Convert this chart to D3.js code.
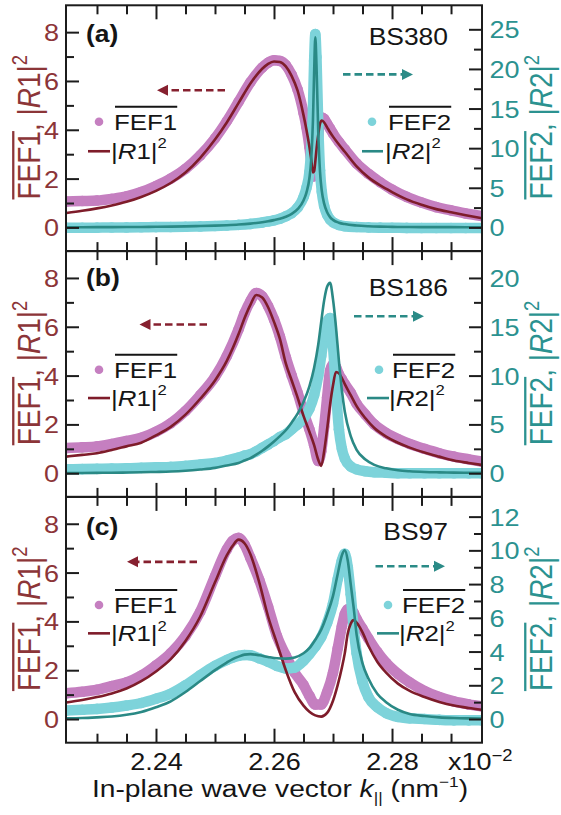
<!DOCTYPE html>
<html>
<head>
<meta charset="utf-8">
<script src="https://cdn.jsdelivr.net/npm/d3@7"></script>
<style>
  html, body { margin: 0; padding: 0; background: #fff; }
  svg { display: block; }
  text { font-family: "Liberation Sans", Arial, Helvetica, sans-serif; }
</style>
</head>
<body>
<svg id="chart" width="561" height="815"></svg>
<script>
// ---------- data: in-plane wave vector grids (x10^-2 nm^-1) and curves ----------
// (a) BS380
const kA = [2.2248, 2.2275, 2.230, 2.2325, 2.235, 2.2375, 2.240, 2.2425, 2.245, 2.2475,
            2.250, 2.252, 2.254, 2.256, 2.258, 2.259, 2.260, 2.261, 2.262, 2.263,
            2.264, 2.265, 2.2655, 2.266, 2.2663, 2.2666, 2.2668, 2.2670, 2.2672, 2.2675,
            2.2678, 2.2681, 2.2685, 2.269, 2.2695, 2.270, 2.271, 2.272, 2.274, 2.276,
            2.278, 2.280, 2.2825, 2.285, 2.2875, 2.290, 2.2925, 2.2952];
const fef1A = [1.06, 1.08, 1.1, 1.17, 1.27, 1.45, 1.7, 2.0, 2.4, 2.95,
               3.65, 4.35, 5.15, 5.95, 6.55, 6.75, 6.85, 6.82, 6.65, 6.25,
               5.65, 4.7, 4.1, 3.3, 2.7, 2.1, 2.1, 2.5, 3.1, 3.8,
               4.35, 4.5, 4.45, 4.25, 4.05, 3.85, 3.5, 3.2, 2.62, 2.2,
               1.85, 1.55, 1.25, 1.02, 0.83, 0.7, 0.57, 0.47];
const r1A = [0.59, 0.68, 0.78, 0.9, 1.05, 1.25, 1.5, 1.82, 2.25, 2.85,
             3.6, 4.3, 5.1, 5.9, 6.5, 6.7, 6.8, 6.78, 6.6, 6.2,
             5.6, 4.6, 4.0, 3.3, 2.8, 2.25, 2.3, 2.7, 3.2, 3.8,
             4.25, 4.38, 4.3, 4.1, 3.9, 3.72, 3.4, 3.1, 2.5, 2.05,
             1.72, 1.45, 1.15, 0.93, 0.75, 0.62, 0.5, 0.38];
const fef2A = [-0.05, -0.04, -0.03, -0.02, 0, 0.02, 0.04, 0.06, 0.09, 0.13,
               0.18, 0.24, 0.32, 0.44, 0.62, 0.75, 0.9, 1.1, 1.4, 1.8,
               2.5, 3.8, 5.0, 7.0, 9.8, 15.0, 21.0, 24.4, 21.5, 13.0,
               7.2, 4.5, 2.7, 1.6, 1.0, 0.65, 0.3, 0.15, 0.05, 0,
               -0.03, -0.05, -0.06, -0.07, -0.08, -0.08, -0.08, -0.08];
const r2A = [0.02, 0.02, 0.03, 0.04, 0.05, 0.06, 0.08, 0.1, 0.13, 0.17,
             0.22, 0.28, 0.36, 0.48, 0.65, 0.77, 0.92, 1.1, 1.35, 1.7,
             2.3, 3.4, 4.4, 6.2, 8.5, 13.5, 19.5, 24.0, 20.5, 12.0,
             7.0, 4.6, 3.0, 1.9, 1.3, 0.95, 0.6, 0.42, 0.24, 0.15,
             0.1, 0.07, 0.05, 0.04, 0.03, 0.03, 0.02, 0.02];

// (b) BS186
const kB = [2.2248, 2.2275, 2.230, 2.2325, 2.235, 2.2375, 2.240, 2.2425, 2.245, 2.2475,
            2.250, 2.252, 2.254, 2.255, 2.256, 2.257, 2.258, 2.259, 2.260, 2.261,
            2.262, 2.263, 2.264, 2.265, 2.266, 2.2668, 2.2675, 2.268, 2.2685, 2.269,
            2.2695, 2.270, 2.2705, 2.271, 2.2715, 2.272, 2.273, 2.274, 2.2755, 2.277,
            2.279, 2.281, 2.283, 2.2855, 2.288, 2.2905, 2.293, 2.2952];
const fef1B = [1.03, 1.06, 1.1, 1.2, 1.32, 1.45, 1.7, 2.05, 2.55, 3.2,
               3.95, 4.8, 5.9, 6.55, 7.05, 7.38, 7.25, 6.85, 6.3, 5.6,
               4.75, 4.0, 3.3, 2.5, 1.8, 1.15, 0.5, 0.9, 1.9, 3.1,
               4.2, 4.45, 4.35, 4.05, 3.85, 3.65, 3.3, 2.85, 2.4, 2.0,
               1.65, 1.4, 1.2, 1.0, 0.82, 0.68, 0.57, 0.48];
const r1B = [0.68, 0.75, 0.82, 0.95, 1.1, 1.25, 1.55, 1.9, 2.4, 3.05,
             3.8, 4.6, 5.7, 6.35, 6.9, 7.3, 7.2, 6.8, 6.2, 5.5,
             4.5, 3.8, 3.1, 2.35, 1.7, 1.15, 0.55, 0.3, 0.9, 1.8,
             2.8, 3.6, 4.15, 4.1, 3.9, 3.65, 3.2, 2.75, 2.25, 1.85,
             1.5, 1.25, 1.05, 0.85, 0.68, 0.52, 0.42, 0.34];
const fef2B = [0.4, 0.42, 0.45, 0.48, 0.5, 0.55, 0.6, 0.65, 0.75, 0.9,
               1.05, 1.3, 1.6, 1.8, 1.95, 2.25, 2.6, 2.95, 3.3, 3.7,
               4.0, 4.5, 5.0, 5.6, 6.6, 8.0, 10.0, 12.0, 14.0, 15.5,
               15.9, 13.0, 8.5, 4.5, 2.5, 1.5, 0.7, 0.4, 0.2, 0.1,
               0.05, 0, 0, 0, 0, 0, 0, 0];
const r2B = [0.02, 0.03, 0.04, 0.05, 0.07, 0.1, 0.13, 0.17, 0.25, 0.38,
             0.55, 0.8, 1.05, 1.3, 1.55, 1.9, 2.3, 2.75, 3.25, 3.8,
             4.4, 5.2, 6.1, 7.3, 8.9, 10.8, 13.2, 15.5, 17.7, 19.1,
             19.5, 17.8, 15.0, 11.5, 8.5, 6.3, 3.8, 2.4, 1.4, 0.85,
             0.5, 0.3, 0.2, 0.13, 0.09, 0.06, 0.05, 0.04];

// (c) BS97
const kC = [2.2248, 2.2275, 2.230, 2.2325, 2.235, 2.2375, 2.240, 2.2425, 2.245, 2.2475,
            2.250, 2.252, 2.253, 2.254, 2.255, 2.256, 2.2575, 2.259, 2.2605, 2.262,
            2.2635, 2.265, 2.266, 2.267, 2.268, 2.269, 2.270, 2.2708, 2.2715, 2.272,
            2.2725, 2.273, 2.2735, 2.274, 2.275, 2.276, 2.2775, 2.279, 2.281, 2.283,
            2.2855, 2.288, 2.2905, 2.293, 2.2952];
const fef1C = [1.06, 1.12, 1.2, 1.35, 1.5, 1.78, 2.2, 2.7, 3.4, 4.4,
               5.85, 6.95, 7.3, 7.42, 7.15, 6.6, 5.7, 4.6, 3.4, 2.6,
               1.9, 1.4, 0.95, 0.6, 0.6, 1.1, 1.9, 2.9, 3.8, 4.3,
               4.5, 4.5, 4.35, 4.1, 3.7, 3.3, 2.75, 2.3, 1.85, 1.5,
               1.15, 0.9, 0.72, 0.6, 0.52];
const r1C = [0.68, 0.78, 0.9, 1.05, 1.25, 1.55, 1.95, 2.45, 3.2, 4.2,
             5.6, 6.7, 7.1, 7.35, 7.2, 6.75, 5.6, 4.2, 3.1, 2.0,
             1.1, 0.55, 0.3, 0.15, 0.1, 0.25, 0.75, 1.4, 2.1, 2.7,
             3.5, 3.9, 4.05, 3.95, 3.55, 3.0, 2.35, 1.9, 1.45, 1.15,
             0.9, 0.7, 0.55, 0.45, 0.38];
const fef2C = [0.5, 0.55, 0.6, 0.68, 0.8, 0.95, 1.2, 1.5, 2.0, 2.6,
               3.15, 3.5, 3.65, 3.75, 3.8, 3.78, 3.6, 3.4, 3.15, 3.0,
               3.05, 3.45, 3.85, 4.3, 4.85, 5.7, 6.85, 8.3, 9.4, 9.8,
               9.0, 7.4, 5.4, 3.9, 2.2, 1.3, 0.7, 0.35, 0.12, 0.04,
               0, -0.05, -0.08, -0.08, -0.08];
const r2C = [0.04, 0.06, 0.1, 0.15, 0.25, 0.42, 0.7, 1.05, 1.6, 2.25,
             2.9, 3.35, 3.55, 3.7, 3.82, 3.85, 3.78, 3.68, 3.6, 3.58,
             3.65, 3.9, 4.2, 4.7, 5.3, 6.2, 7.3, 8.6, 9.7, 10.0,
             9.4, 8.0, 6.6, 5.0, 3.3, 2.4, 1.5, 1.0, 0.55, 0.3,
             0.18, 0.1, 0.06, 0.04, 0.03];

// ---------- ticks and labels ----------
const xMajor = [2.24, 2.26, 2.28];
const xMinor = [2.23, 2.235, 2.245, 2.25, 2.255, 2.265, 2.27, 2.275, 2.285, 2.29];
const leftMajor = [0, 2, 4, 6, 8];
const leftMinor = [1, 3, 5, 7];
const rightMajorA = [0, 5, 10, 15, 20, 25];
const rightMinorA = [2.5, 7.5, 12.5, 17.5, 22.5];
const rightMajorB = [0, 5, 10, 15, 20];
const rightMinorB = [2.5, 7.5, 12.5, 17.5];
const rightMajorC = [0, 2, 4, 6, 8, 10, 12];
const rightMinorC = [1, 3, 5, 7, 9, 11];
const panelTags = ["(a)", "(b)", "(c)"];
const sampleNames = ["BS380", "BS186", "BS97"];

// ---------- styling ----------
const C_F1 = "#c57fc0", C_R1 = "#7e1c2a", C_F2 = "#7dd3da", C_R2 = "#2a8985";
const C_LEFT = "#8c3538", C_RIGHT = "#2b9290", C_FRAME = "#1c1c1c", C_TEXT = "#151515";
const SX = 1.15;                      // horizontal glyph stretch of the typeface
const X0 = 66, X1 = 482, TOP = 5.3, PH = 245.8;
const LEFT_DOMAIN = [-0.97, 9.1];

const svg = d3.select("#chart");
const x = d3.scaleLinear().domain([2.22475, 2.29525]).range([X0, X1]);

// text helper: anchor point (px,py), glyphs stretched horizontally
function label(parent, px, py, str, size, anchor, fill, weight) {
  const g = parent.append("g").attr("transform", `translate(${px},${py}) scale(${SX},1)`);
  const t = g.append("text").attr("x", 0).attr("y", 0)
    .attr("font-size", size).attr("text-anchor", anchor || "start")
    .attr("fill", fill || C_TEXT).attr("font-weight", weight || "normal");
  if (str !== null) t.text(str);
  return t;
}

function arrow(parent, xTail, xHead, y, color) {
  const dir = xHead > xTail ? 1 : -1;
  const headLen = 11, headHalf = 5.5;
  parent.append("line")
    .attr("x1", xTail).attr("x2", xHead - dir * headLen)
    .attr("y1", y).attr("y2", y)
    .attr("stroke", color).attr("stroke-width", 2.6)
    .attr("stroke-dasharray", "7.5,4");
  parent.append("path")
    .attr("d", `M${xHead},${y} L${xHead - dir * headLen},${y - headHalf} L${xHead - dir * headLen},${y + headHalf} Z`)
    .attr("fill", color);
}

const panels = [
  { k: kA, f1: fef1A, r1: r1A, f2: fef2A, r2: r2A, rDomain: [-2.99, 28.03],
    rMajor: rightMajorA, rMinor: rightMinorA,
    tagY: 7.93, nameY: 7.8, arrL: [225, 157, 5.62], arrR: [343, 413, 6.27],
    legY: [4.33, 3.12], legR: { dot: 372, text: 388, line: [362, 383] } },
  { k: kB, f1: fef1B, r1: r1B, f2: fef2B, r2: r2B, rDomain: [-2.425, 22.75],
    rMajor: rightMajorB, rMinor: rightMinorB,
    tagY: 8.0, nameY: 7.6, arrL: [207, 139.5, 6.09], arrR: [354, 424, 6.43],
    legY: [4.24, 3.08], legR: { dot: 379, text: 392, line: [367, 389] } },
  { k: kC, f1: fef1C, r1: r1C, f2: fef2C, r2: r2C, rDomain: [-1.404, 13.17],
    rMajor: rightMajorC, rMinor: rightMinorC,
    tagY: 7.86, nameY: 7.66, arrL: [197, 127, 6.44], arrR: [375.5, 445, 6.26],
    legY: [4.67, 3.51], legR: { dot: 388, text: 402, line: [377, 399] } }
];

const defs = svg.append("defs");

panels.forEach((p, i) => {
  const top = TOP + i * PH, bottom = top + PH;
  const yL = d3.scaleLinear().domain(LEFT_DOMAIN).range([bottom, top]);
  const yR = d3.scaleLinear().domain(p.rDomain).range([bottom, top]);

  defs.append("clipPath").attr("id", "clip" + i)
    .append("rect").attr("x", X0).attr("y", top).attr("width", X1 - X0).attr("height", PH);

  const plot = svg.append("g").attr("clip-path", `url(#clip${i})`);

  const lineOn = (yScale) => d3.line()
    .x((d, j) => x(p.k[j])).y(d => yScale(d)).curve(d3.curveMonotoneX);

  // simulated field enhancement: dense dot bands
  function band(values, yScale, color) {
    plot.append("path").datum(values).attr("d", lineOn(yScale))
      .attr("fill", "none").attr("stroke", color).attr("stroke-width", 10.5)
      .attr("stroke-linejoin", "round").attr("stroke-linecap", "round");
    plot.append("g").selectAll("circle").data(values).join("circle")
      .attr("cx", (d, j) => x(p.k[j])).attr("cy", d => yScale(d))
      .attr("r", 5.3).attr("fill", color);
  }
  band(p.f1, yL, C_F1);
  band(p.f2, yR, C_F2);

  // coupled-mode fits
  plot.append("path").datum(p.r1).attr("d", lineOn(yL))
    .attr("fill", "none").attr("stroke", C_R1).attr("stroke-width", 2.6);
  plot.append("path").datum(p.r2).attr("d", lineOn(yR))
    .attr("fill", "none").attr("stroke", C_R2).attr("stroke-width", 2.6);

  // ---- axes (ticks point inward) ----
  function styleTicks(sel) {
    sel.select(".domain").remove();
    sel.selectAll(".tick line").attr("stroke", C_FRAME).attr("stroke-width", 2);
  }
  // left
  const gL = svg.append("g").attr("transform", `translate(${X0},0)`)
    .call(d3.axisLeft(yL).tickValues(leftMajor).tickSize(-13).tickPadding(7).tickFormat(d3.format("d")));
  styleTicks(gL);
  gL.selectAll(".tick text").attr("x", 0).attr("dy", "0.36em")
    .attr("transform", `translate(-7,0) scale(${SX},1)`)
    .attr("font-size", 23.5).attr("fill", C_LEFT).attr("font-family", null);
  const gLm = svg.append("g").attr("transform", `translate(${X0},0)`)
    .call(d3.axisLeft(yL).tickValues(leftMinor).tickSize(-8).tickFormat(""));
  styleTicks(gLm);

  // right
  const gR = svg.append("g").attr("transform", `translate(${X1},0)`)
    .call(d3.axisRight(yR).tickValues(p.rMajor).tickSize(-13).tickFormat(d3.format("d")));
  styleTicks(gR);
  gR.selectAll(".tick text").attr("x", 0).attr("dy", "0.36em")
    .attr("transform", `translate(7.5,0) scale(${SX},1)`)
    .attr("font-size", 23.5).attr("fill", C_RIGHT).attr("font-family", null);
  const gRm = svg.append("g").attr("transform", `translate(${X1},0)`)
    .call(d3.axisRight(yR).tickValues(p.rMinor).tickSize(-8).tickFormat(""));
  styleTicks(gRm);

  // top and bottom
  [[xMajor, 14], [xMinor, 9]].forEach(([vals, len]) => {
    const gt = svg.append("g").attr("transform", `translate(0,${top})`)
      .call(d3.axisTop(x).tickValues(vals).tickSize(-len).tickFormat(""));
    styleTicks(gt);
    const gb = svg.append("g").attr("transform", `translate(0,${bottom})`)
      .call(d3.axisBottom(x).tickValues(vals).tickSize(-len).tickFormat(""));
    styleTicks(gb);
  });
  if (i === panels.length - 1) {
    const gx = svg.append("g").attr("transform", `translate(0,${bottom})`)
      .call(d3.axisBottom(x).tickValues(xMajor).tickSize(0).tickFormat(d3.format(".2f")));
    gx.select(".domain").remove();
    gx.selectAll(".tick line").remove();
    gx.selectAll(".tick text").attr("y", 0).attr("dy", null)
      .attr("transform", `translate(0,${770 - bottom}) scale(${SX},1)`)
      .attr("font-size", 23.5).attr("fill", C_TEXT).attr("font-family", null);
  }

  // frame
  svg.append("rect").attr("x", X0).attr("y", top).attr("width", X1 - X0).attr("height", PH)
    .attr("fill", "none").attr("stroke", C_FRAME).attr("stroke-width", 2);

  // panel tag and sample name
  label(svg, 86, yL(p.tagY), panelTags[i], 23, "start", C_TEXT, "bold").attr("dy", "0.36em");
  label(svg, 448, yL(p.nameY), sampleNames[i], 23, "end", C_TEXT).attr("dy", "0.36em");

  // axis-pointing arrows
  arrow(svg, p.arrL[0], p.arrL[1], yL(p.arrL[2]), "#86202f");
  arrow(svg, p.arrR[0], p.arrR[1], yL(p.arrR[2]), "#2b8b87");

  // legends
  function legend(dotX, textX, lineX, name, rName, dotColor, lineColor) {
    const yA = yL(p.legY[0]), yB = yL(p.legY[1]);
    svg.append("circle").attr("cx", dotX).attr("cy", yA).attr("r", 4.3).attr("fill", dotColor);
    const t = label(svg, textX, yA, name, 22.5, "start").attr("dy", "0.36em");
    const w = t.node().getComputedTextLength() * SX;
    svg.append("line").attr("x1", textX + 1).attr("x2", textX + w)
      .attr("y1", yA - 15).attr("y2", yA - 15).attr("stroke", C_TEXT).attr("stroke-width", 2);
    svg.append("line").attr("x1", lineX[0]).attr("x2", lineX[1]).attr("y1", yB).attr("y2", yB)
      .attr("stroke", lineColor).attr("stroke-width", 2.6);
    const r = label(svg, textX - 3, yB, null, 22.5, "start").attr("dy", "0.36em");
    r.append("tspan").text("|");
    r.append("tspan").attr("font-style", "italic").text("R");
    r.append("tspan").text(rName + "|");
    r.append("tspan").attr("font-size", 14.5).attr("dy", "-0.75em").text("2");
  }
  legend(99, 114, [88, 110], "FEF1", "1", C_F1, C_R1);
  legend(p.legR.dot, p.legR.text, p.legR.line, "FEF2", "2", C_F2, C_R2);

  // rotated axis titles
  function yTitle(px, name, idx, color) {
    const fs = 28;
    const cy = top + PH / 2 - 1;
    const g = svg.append("g").attr("transform", `translate(${px},${cy}) scale(${SX},1) rotate(-90)`);
    const t = g.append("text").attr("text-anchor", "middle").attr("font-size", fs).attr("fill", color);
    t.append("tspan").text(name);
    t.append("tspan").text(", |");
    t.append("tspan").attr("font-style", "italic").text("R");
    t.append("tspan").text(idx + "|");
    t.append("tspan").attr("font-size", 18.5).attr("dy", "-0.62em").text("2");
    const n = t.node();
    const xs = n.getStartPositionOfChar(0).x, xe = n.getEndPositionOfChar(3).x;
    const oy = -(0.716 * fs + 3.2);
    g.append("line").attr("x1", xs).attr("x2", xe).attr("y1", oy).attr("y2", oy)
      .attr("stroke", color).attr("stroke-width", 2);
  }
  yTitle(40, "FEF1", "1", C_LEFT);
  yTitle(552, "FEF2", "2", C_RIGHT);
});

// x-axis exponent and title
const ex = label(svg, 448, 770, null, 23.5, "start");
ex.append("tspan").text("x10");
ex.append("tspan").attr("font-size", 16).attr("dy", -9).text("\u22122");

const xt = label(svg, 280, 797, null, 24.5, "middle");
xt.append("tspan").text("In-plane wave vector ");
xt.append("tspan").attr("font-style", "italic").text("k");
xt.append("tspan").attr("font-size", 15).attr("dy", 6).text("||");
xt.append("tspan").attr("dy", -6).text(" (nm");
xt.append("tspan").attr("font-size", 15).attr("dy", -10).text("\u22121");
xt.append("tspan").attr("dy", 10).text(")");
</script>
</body>
</html>
